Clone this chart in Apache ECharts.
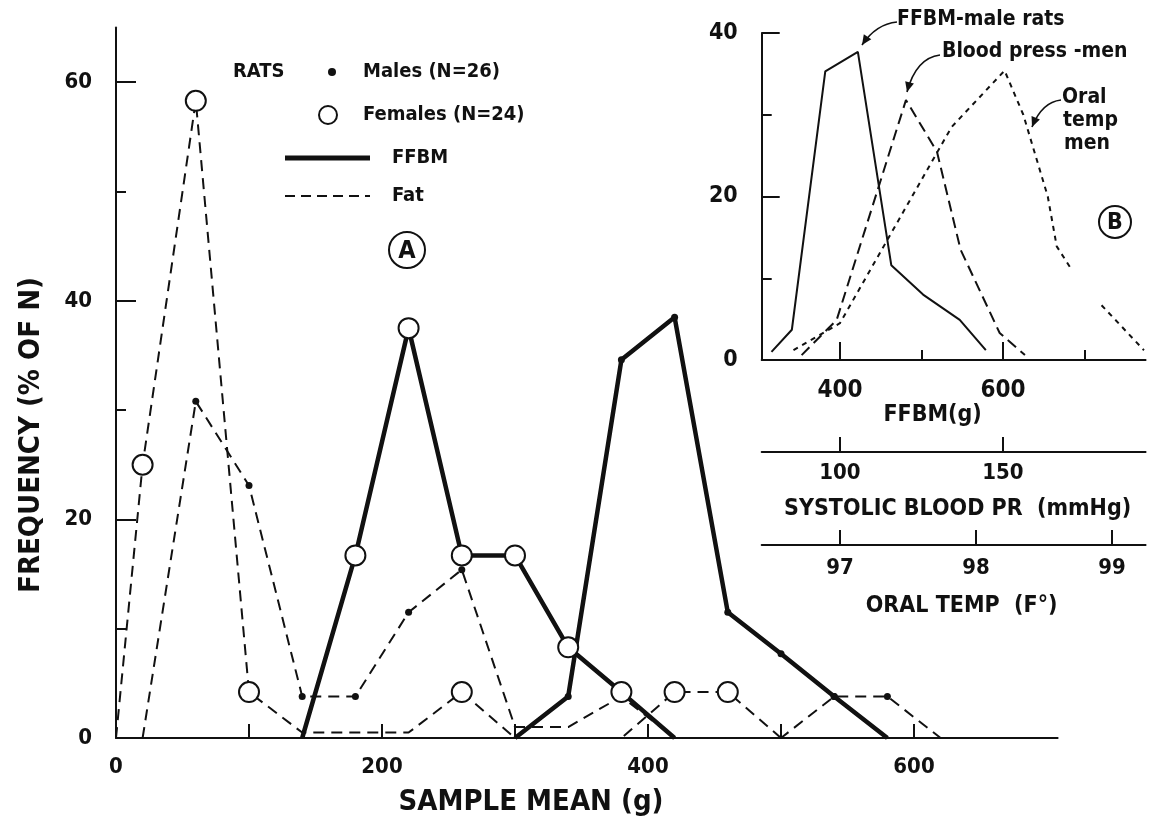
<!DOCTYPE html>
<html><head><meta charset="utf-8">
<script src="https://cdn.jsdelivr.net/npm/echarts@6/dist/echarts.min.js"></script>
<style>html,body{margin:0;padding:0;background:#fff}#c{width:1151px;height:825px}</style>
</head><body><div id="c"></div><script>
// ---- Panel A: [sample mean (g), frequency (% of N)] ----
const femaleFFBM = [[140,0],[180,16.7],[220,37.5],[260,16.7],[300,16.7],[340,8.3],[380,4.2],[420,0]];
const maleFFBM   = [[300,0],[340,3.8],[380,34.6],[420,38.5],[460,11.5],[500,7.7],[540,3.8],[580,0]];
const femaleFat  = [[0,0],[20,25],[60,58.3],[100,4.2],[140,0.5],[180,0.5],[220,0.5],[260,4.2],[300,0],[340,0],[380,0],[420,4.2],[460,4.2],[500,0]];
const maleFat    = [[20,0],[60,30.8],[100,23.1],[140,3.8],[180,3.8],[220,11.5],[260,15.4],[300,1],[340,1],[380,3.8],[420,0],[460,0],[500,0],[540,3.8],[580,3.8],[620,0]];
const xTicksA = [100,200,300,400,500,600];
const xLabelsA = [0,200,400,600];
const yLabelsA = [0,20,40,60];
const yMinorA = [10,30,50];
// ---- Panel B: [FFBM (g), frequency] ----
const ffbmMaleRats  = [[316,1],[341,3.7],[382,35.3],[422,37.7],[463,11.6],[502,8],[547,4.9],[579,1.2]];
const bloodPressMen = [[353,0.6],[396,4.9],[481,31.8],[519,25.5],[548,13.5],[596,3.3],[627,0.6]];
const oralTempMen   = [[343,1.2],[400,4.5],[537,28.5],[602,35.4],[625,30],[655,20],[666,13.9],[682,11.4],[700,'-'],[721,6.7],[773,1.2]];
const xLabelsB = [400,600];
const xMinorB = [500,700];
const yLabelsB = [0,20,40];
const yMinorB = [10,30];
const bpTicks = [100,150];
const tempTicks = [97,98,99];

const FONT = '"DejaVu Sans Condensed", "DejaVu Sans", sans-serif';
const W = 'bold';
const K = '#111';
const chart = echarts.init(document.getElementById('c'));

function pts(arr){ return arr.map(([x,y]) => (y !== '-' && y >= 3) ? [x,y] : {value:[x,y], symbol:'none'}); }

function arrow(x0,y0,cx,cy,x1,y1){
  const dx=x1-cx, dy=y1-cy, L=Math.hypot(dx,dy), ux=dx/L, uy=dy/L, nx=-uy, ny=ux;
  const bx=x1-ux*10, by=y1-uy*10;
  return [
    {type:'bezierCurve', shape:{x1:x0,y1:y0,x2:x1,y2:y1,cpx1:cx,cpy1:cy}, style:{stroke:K,lineWidth:1.6,fill:null}},
    {type:'polygon', shape:{points:[[x1,y1],[bx+nx*4.5,by+ny*4.5],[bx-nx*4.5,by-ny*4.5]]}, style:{fill:K}}
  ];
}
function txt(x,y,t,size,opts){
  return Object.assign({type:'text', x, y, style:Object.assign({text:t, fontSize:size, fontFamily:FONT, fontWeight:W, fill:K, align:'left', verticalAlign:'middle'}, (opts||{}).style||{})}, (opts||{}).el||{});
}

const axLine = {show:true, lineStyle:{color:K, width:2}};
const lbl = (vals, size, margin) => ({customValues:vals, fontSize:size, fontFamily:FONT, fontWeight:W, color:K, margin});
const tick = (vals, len) => ({show:true, inside:true, customValues:vals, length:len, lineStyle:{color:K, width:2}});
const nameStyle = (size, pad) => ({fontSize:size, fontFamily:FONT, fontWeight:W, color:K, padding:pad});

const gA = {left:116, top:738-65*10.93, width:708*1.33, height:65*10.93};
const gB = {left:761.7, top:33, width:(775-304)*0.815, height:327};

const option = {
  animation:false,
  backgroundColor:'#fff',
  grid:[
    Object.assign({containLabel:false, outerBoundsMode:'none'}, gA),
    Object.assign({containLabel:false, outerBoundsMode:'none'}, gB)
  ],
  xAxis:[
    {type:'value', gridIndex:0, position:'bottom', min:0, max:708, axisLine:axLine, axisTick:tick(xTicksA,14), axisLabel:lbl(xLabelsA,22,18), splitLine:{show:false}},
    {type:'value', gridIndex:1, position:'bottom', min:304, max:775, axisLine:axLine, axisTick:tick(xLabelsB,18), axisLabel:lbl(xLabelsB,24,19), splitLine:{show:false},
      name:'FFBM(g)', nameLocation:'middle', nameGap:40, nameTextStyle:nameStyle(23,[0,0,0,-42])},
    {type:'value', gridIndex:1, position:'bottom', min:304, max:775, axisLine:{show:false}, axisTick:tick(xMinorB,10), axisLabel:{show:false}, splitLine:{show:false}},
    {type:'value', gridIndex:1, position:'bottom', min:76, max:193.75, offset:92, axisLine:axLine, axisTick:tick(bpTicks,15), axisLabel:lbl(bpTicks,22,10), splitLine:{show:false},
      name:'SYSTOLIC BLOOD PR  (mmHg)', nameLocation:'middle', nameGap:46, nameTextStyle:nameStyle(23,[0,0,0,8])},
    {type:'value', gridIndex:1, position:'bottom', min:96.425, max:99.247, offset:185, axisLine:axLine, axisTick:tick(tempTicks,15), axisLabel:lbl(tempTicks,22,12), splitLine:{show:false},
      name:'ORAL TEMP  (F°)', nameLocation:'middle', nameGap:50, nameTextStyle:nameStyle(23,[0,0,0,16])}
  ],
  yAxis:[
    {type:'value', gridIndex:0, position:'left', min:0, max:65, axisLine:axLine, axisTick:tick(yLabelsA,20), axisLabel:lbl(yLabelsA,22,24), splitLine:{show:false}},
    {type:'value', gridIndex:0, position:'left', min:0, max:65, axisLine:{show:false}, axisTick:tick(yMinorA,10), axisLabel:{show:false}, splitLine:{show:false}},
    {type:'value', gridIndex:1, position:'left', min:0, max:40, axisLine:axLine, axisTick:tick([20,40],18), axisLabel:lbl(yLabelsB,23,24), splitLine:{show:false}},
    {type:'value', gridIndex:1, position:'left', min:0, max:40, axisLine:{show:false}, axisTick:tick(yMinorB,10), axisLabel:{show:false}, splitLine:{show:false}}
  ],
  series:[
    {name:'Fat males', type:'line', xAxisIndex:0, yAxisIndex:0, data:pts(maleFat), symbol:'circle', symbolSize:7,
      itemStyle:{color:K}, lineStyle:{color:K, width:2, type:[11,7]}, z:3},
    {name:'Fat females', type:'line', xAxisIndex:0, yAxisIndex:0, data:pts(femaleFat), symbol:'circle', symbolSize:20,
      itemStyle:{color:'#fff', borderColor:K, borderWidth:2}, lineStyle:{color:K, width:2, type:[11,7]}, z:4},
    {name:'FFBM males', type:'line', xAxisIndex:0, yAxisIndex:0, data:pts(maleFFBM), symbol:'circle', symbolSize:7,
      itemStyle:{color:K}, lineStyle:{color:K, width:4.5}, z:5},
    {name:'FFBM females', type:'line', xAxisIndex:0, yAxisIndex:0, data:pts(femaleFFBM), symbol:'circle', symbolSize:20,
      itemStyle:{color:'#fff', borderColor:K, borderWidth:2}, lineStyle:{color:K, width:4.5}, z:6},
    {name:'FFBM-male rats', type:'line', xAxisIndex:1, yAxisIndex:2, data:ffbmMaleRats, symbol:'none', lineStyle:{color:K, width:2}},
    {name:'Blood press-men', type:'line', xAxisIndex:1, yAxisIndex:2, data:bloodPressMen, symbol:'none', lineStyle:{color:K, width:2, type:[11,6]}},
    {name:'Oral temp men', type:'line', xAxisIndex:1, yAxisIndex:2, data:oralTempMen, symbol:'none', connectNulls:false, lineStyle:{color:K, width:2, type:[5,5]}}
  ],
  graphic:[
    // axis titles of panel A
    txt(531,802,'SAMPLE MEAN (g)',29,{style:{align:'center'}}),
    txt(31,435,'FREQUENCY (% OF N)',29,{style:{align:'center'}, el:{rotation:Math.PI/2}}),
    // legend
    txt(233,72,'RATS',20),
    {type:'circle', shape:{cx:332,cy:72,r:4}, style:{fill:K}},
    txt(363,72,'Males (N=26)',20),
    {type:'circle', shape:{cx:328,cy:115,r:9}, style:{fill:'#fff', stroke:K, lineWidth:2}},
    txt(363,115,'Females (N=24)',20),
    {type:'line', shape:{x1:285,y1:158,x2:370,y2:158}, style:{stroke:K, lineWidth:5}},
    txt(392,158,'FFBM',20),
    {type:'line', shape:{x1:285,y1:196,x2:370,y2:196}, style:{stroke:K, lineWidth:2, lineDash:[10,6]}},
    txt(392,196,'Fat',20),
    {type:'circle', shape:{cx:407,cy:250,r:18}, style:{fill:'none', stroke:K, lineWidth:2}},
    txt(407,251,'A',25,{style:{align:'center'}}),
    // panel B label and annotations
    {type:'circle', shape:{cx:1115,cy:222,r:16}, style:{fill:'none', stroke:K, lineWidth:2}},
    txt(1115,223,'B',23,{style:{align:'center'}}),
    txt(897,20,'FFBM-male rats',21),
    ...arrow(897,22,876,24,862,45),
    txt(942,52,'Blood press -men',21),
    ...arrow(940,55,916,58,907,92),
    txt(1062,98,'Oral',21),
    txt(1063,121,'temp',21),
    txt(1064,144,'men',21),
    ...arrow(1061,100,1042,102,1032,127)
  ]
};
chart.setOption(option);
</script></body></html>
